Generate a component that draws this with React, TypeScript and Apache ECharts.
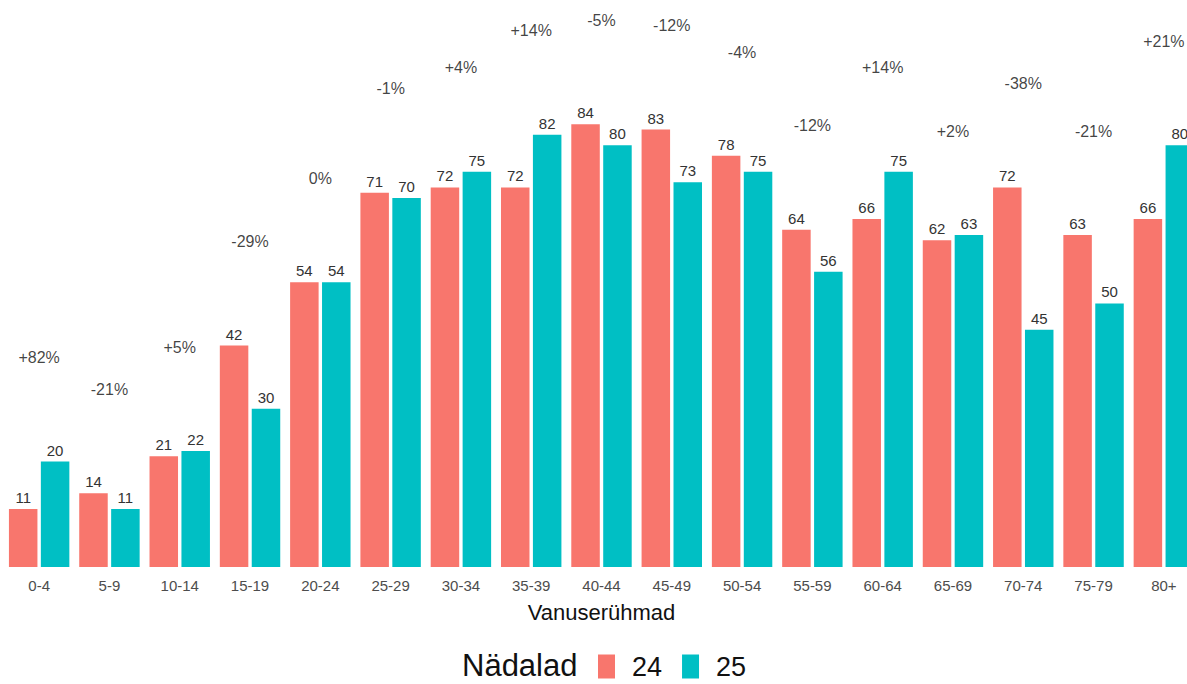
import React, { useEffect, useRef } from "react";
import * as echarts from "echarts";

const categories = ["0-4","5-9","10-14","15-19","20-24","25-29","30-34","35-39","40-44","45-49","50-54","55-59","60-64","65-69","70-74","75-79","80+"];
const week24 = [11,14,21,42,54,71,72,72,84,83,78,64,66,62,72,63,66];
const week25 = [20,11,22,30,54,70,75,82,80,73,75,56,75,63,45,50,80];
const changeLabels = ["+82%","-21%","+5%","-29%","0%","-1%","+4%","+14%","-5%","-12%","-4%","-12%","+14%","+2%","-38%","-21%","+21%"];

const FONT = "'Liberation Sans', Arial, sans-serif";
const PCT_OFFSET = 19.7;

export default function App() {
  const ref = useRef<HTMLDivElement>(null);
  useEffect(() => {
    if (!ref.current) return;
    const chart = echarts.init(ref.current, null, { renderer: "svg" });
    const pctData = categories.map((c, i) => ({
      value: [i, Math.max(week24[i], week25[i]) + PCT_OFFSET],
      label: { formatter: changeLabels[i] },
    }));
    chart.setOption({
      animation: false,
      backgroundColor: "#ffffff",
      grid: { left: 4, right: 0, top: 3, bottom: 117, containLabel: false },
      xAxis: {
        type: "category",
        data: categories,
        axisLine: { show: false },
        axisTick: { show: false },
        axisLabel: { color: "#4d4d4d", fontSize: 15, fontFamily: FONT, margin: 11, interval: 0 },
        name: "Vanuserühmad",
        nameLocation: "middle",
        nameGap: 34,
        nameTextStyle: { color: "#111", fontSize: 22, fontFamily: FONT },
      },
      yAxis: {
        type: "value",
        min: 0,
        max: 107,
        show: false,
        splitLine: { show: false },
      },
      legend: {
        data: ["24", "25"],
        left: 598,
        top: 653,
        padding: 0,
        itemWidth: 17,
        itemHeight: 24,
        itemGap: 20,
        icon: "rect",
        textStyle: { fontSize: 27, color: "#111", fontFamily: FONT, padding: [0, 0, 0, 12] },
      },
      graphic: [
        {
          type: "text",
          left: 462,
          top: 650,
          style: { text: "Nädalad", fontSize: 31, lineHeight: 31, fill: "#111", fontFamily: FONT },
        },
      ],
      series: [
        {
          name: "24",
          type: "bar",
          data: week24,
          barWidth: 28.5,
          barGap: "12%",
          itemStyle: { color: "#F8766D" },
          label: { show: true, position: "top", distance: 4, fontSize: 15, color: "#333", fontFamily: FONT },
        },
        {
          name: "25",
          type: "bar",
          data: week25,
          barWidth: 28.5,
          barGap: "12%",
          itemStyle: { color: "#00BFC4" },
          label: { show: true, position: "top", distance: 4, fontSize: 15, color: "#333", fontFamily: FONT },
        },
        {
          name: "change",
          type: "scatter",
          data: pctData,
          symbolSize: 0,
          silent: true,
          label: { show: true, position: "inside", fontSize: 16, color: "#111", fontFamily: FONT },
        },
      ],
    });
    return () => chart.dispose();
  }, []);
  return (
    <div style={{ position: "fixed", left: 0, top: 0, width: 1187, height: 684, overflow: "hidden", background: "#fff" }}>
      <div ref={ref} style={{ width: 1199, height: 684 }} />
    </div>
  );
}
